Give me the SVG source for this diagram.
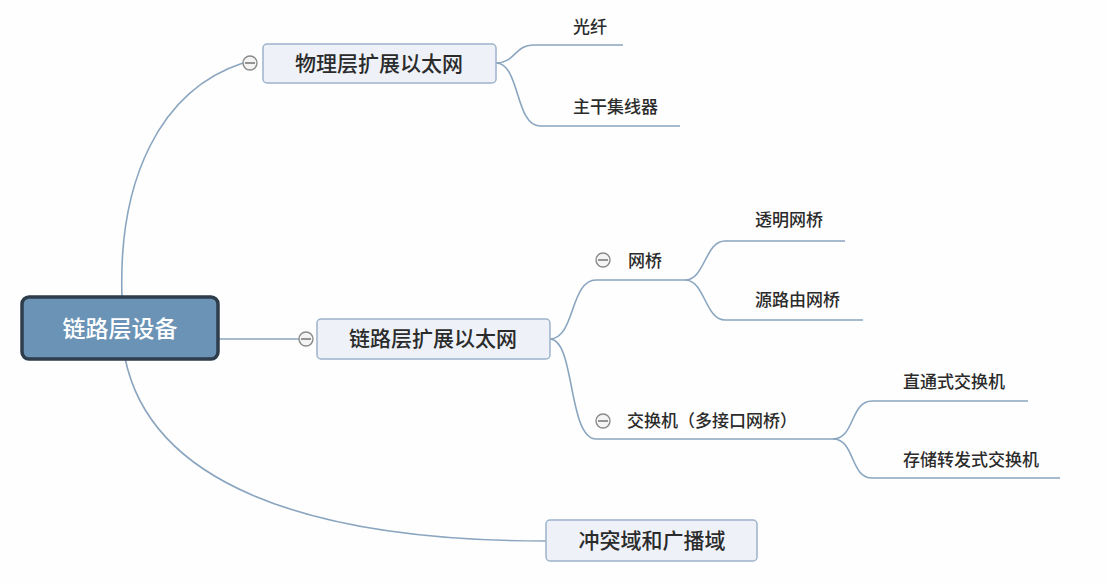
<svg xmlns="http://www.w3.org/2000/svg" width="1107" height="583" viewBox="0 0 1107 583">
<style>
.conn{fill:none;stroke:#8aa5bf;stroke-width:1.6}
.box{fill:#eef2f8;stroke:#9db3cb;stroke-width:1.5}
.t{font-family:"Noto Sans CJK SC","Liberation Sans",sans-serif;fill:#2b2b2b;font-weight:500}
.mid{font-size:21px}
.leaf{font-size:17px}
.col{fill:#f4f4f4;stroke:#8a8a8a;stroke-width:1.4}
.colbar{stroke:#6a6a6a;stroke-width:1.4}
</style>
<rect width="1107" height="583" fill="#fefefe"/>
<g id="connectors">
<path class="conn" d="M122,297 C118,180 160,90 243,63"/>
<path class="conn" d="M218,339 L299,339"/>
<path class="conn" d="M125,358 C150,480 300,541 546,541"/>
<path class="conn" d="M496,63 C515,63 515,45 533,45 L623,45"/>
<path class="conn" d="M496,63 C520,63 515,126 540,126 L680,126"/>
<path class="conn" d="M550,339 C575,339 570,280 596,280 L685,280"/>
<path class="conn" d="M550,339 C575,339 568,439 596,439 L833,439"/>
<path class="conn" d="M685,280 C705,280 705,241 725,241 L845,241"/>
<path class="conn" d="M685,280 C705,280 705,320 725,320 L863,320"/>
<path class="conn" d="M833,439 C855,439 850,401 872,401 L1028,401"/>
<path class="conn" d="M833,439 C855,439 850,478 872,478 L1060,478"/>
</g>
<g id="root">
<rect x="22" y="297" width="196" height="62" rx="7" fill="#6a93b6" stroke="#2e3d4b" stroke-width="3.5"/>
<text class="t" x="120" y="337" font-size="23" style="fill:#ffffff" text-anchor="middle">链路层设备</text>
</g>
<g id="n-phys">
<circle class="col" cx="250" cy="63" r="7"/>
<line class="colbar" x1="245" y1="63" x2="255" y2="63"/>
<rect class="box" x="263" y="44" width="233" height="39" rx="4"/>
<text class="t mid" x="379" y="71" text-anchor="middle">物理层扩展以太网</text>
</g>
<g id="n-fiber"><text class="t leaf" x="573" y="33">光纤</text></g>
<g id="n-hub"><text class="t leaf" x="573" y="113">主干集线器</text></g>
<g id="n-link">
<circle class="col" cx="306" cy="339" r="7"/>
<line class="colbar" x1="301" y1="339" x2="311" y2="339"/>
<rect class="box" x="317" y="319" width="233" height="40" rx="4"/>
<text class="t mid" x="433" y="346" text-anchor="middle">链路层扩展以太网</text>
</g>
<g id="n-bridge">
<circle class="col" cx="603" cy="260" r="7"/>
<line class="colbar" x1="598" y1="260" x2="608" y2="260"/>
<text class="t leaf" x="628" y="267">网桥</text>
</g>
<g id="n-transparent"><text class="t leaf" x="755" y="226">透明网桥</text></g>
<g id="n-source"><text class="t leaf" x="755" y="306">源路由网桥</text></g>
<g id="n-switch">
<circle class="col" cx="603" cy="421" r="7"/>
<line class="colbar" x1="598" y1="421" x2="608" y2="421"/>
<text class="t leaf" x="627" y="427">交换机（多接口网桥）</text>
</g>
<g id="n-cut"><text class="t leaf" x="903" y="388">直通式交换机</text></g>
<g id="n-store"><text class="t leaf" x="903" y="466">存储转发式交换机</text></g>
<g id="n-domain">
<rect class="box" x="546" y="520" width="211" height="41" rx="4"/>
<text class="t mid" x="652" y="548" text-anchor="middle">冲突域和广播域</text>
</g>
</svg>
